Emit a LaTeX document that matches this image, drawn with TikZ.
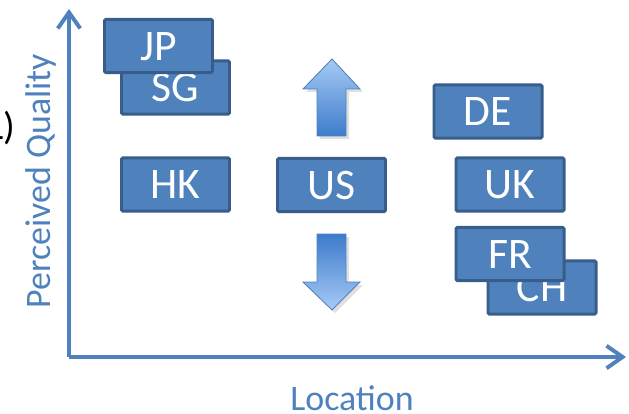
\documentclass[tikz,border=0pt]{standalone}
\usepackage{fontspec}
\setmainfont{Carlito}
\usetikzlibrary{arrows.meta}

\definecolor{boxfill}{HTML}{4F81BD}
\definecolor{boxline}{HTML}{385D8A}
\definecolor{axisblue}{HTML}{4F81BD}
\definecolor{lightarrow}{HTML}{A6CAF6}
\definecolor{darkarrow}{HTML}{3D7CCB}

\begin{document}
\begin{tikzpicture}[
    x=0.025cm, y=-0.025cm,
    country/.style={rectangle, rounded corners=1pt, draw=boxline, fill=boxfill,
                    line width=2.1pt, minimum width=2.7cm, minimum height=1.33cm,
                    text=white, font=\fontsize{31}{36}\selectfont,
                    text height=20pt, text depth=0pt, inner sep=0pt},
    axis/.style={draw=axisblue, line width=2.8pt,
                 -{Straight Barb[length=4mm, width=5.6mm, line width=2.8pt]}},
    axislabel/.style={text=axisblue, font=\fontsize{25.5}{30}\selectfont, inner sep=0pt},
    trend/.style={draw=axisblue, line width=0.6pt, line join=miter},
    trendshadow/.style={fill=black, opacity=0.12}
]
    \useasboundingbox (0,0) rectangle (629,413);
    \clip (0,0) rectangle (629,413);

    % text cut off at the left margin
    \node[anchor=base east, inner sep=0pt, font=\fontsize{27.5}{32}\selectfont]
        (cutoff) at (16,139) {L)};

    % axes
    \coordinate (origin) at (69,357);
    \coordinate (ytop) at (69,9);
    \coordinate (xend) at (626,357);
    \draw[axis] (origin) -- (ytop);
    \draw[axis] (origin) -- (xend);
    \node[axislabel, anchor=base] (xlabel) at (352,410) {Location};
    \node[axislabel, anchor=base, rotate=90] (ylabel) at (50,181) {Perceived Quality};

    % up / down arrows beside US
    \fill[trendshadow] (334,62) -- (363,92) -- (349,92) -- (349,139) -- (320,139)
        -- (320,92) -- (306,92) -- cycle;
    \path[trend, top color=lightarrow, bottom color=darkarrow]
        (332,59) -- (360,89) -- (346,89) -- (346,136) -- (317,136)
        -- (317,89) -- (303,89) -- cycle;
    \fill[trendshadow] (320,237) -- (349,237) -- (349,285) -- (363,285) -- (335,313)
        -- (306,285) -- (320,285) -- cycle;
    \path[trend, top color=darkarrow, bottom color=lightarrow]
        (317,234) -- (346,234) -- (346,282) -- (360,282) -- (332,310)
        -- (303,282) -- (317,282) -- cycle;

    % countries
    \node[country] (sg) at (175.5,87.5) {SG};
    \node[country] (jp) at (158.5,46) {JP};
    \node[country] (hk) at (175.5,184.5) {HK};
    \node[country] (us) at (331.5,185) {US};
    \node[country] (de) at (488,111.5) {DE};
    \node[country] (uk) at (510,184.5) {UK};
    \node[country] (ch) at (542,287.5) {CH};
    \node[country] (fr) at (510,254) {FR};
\end{tikzpicture}
\end{document}
